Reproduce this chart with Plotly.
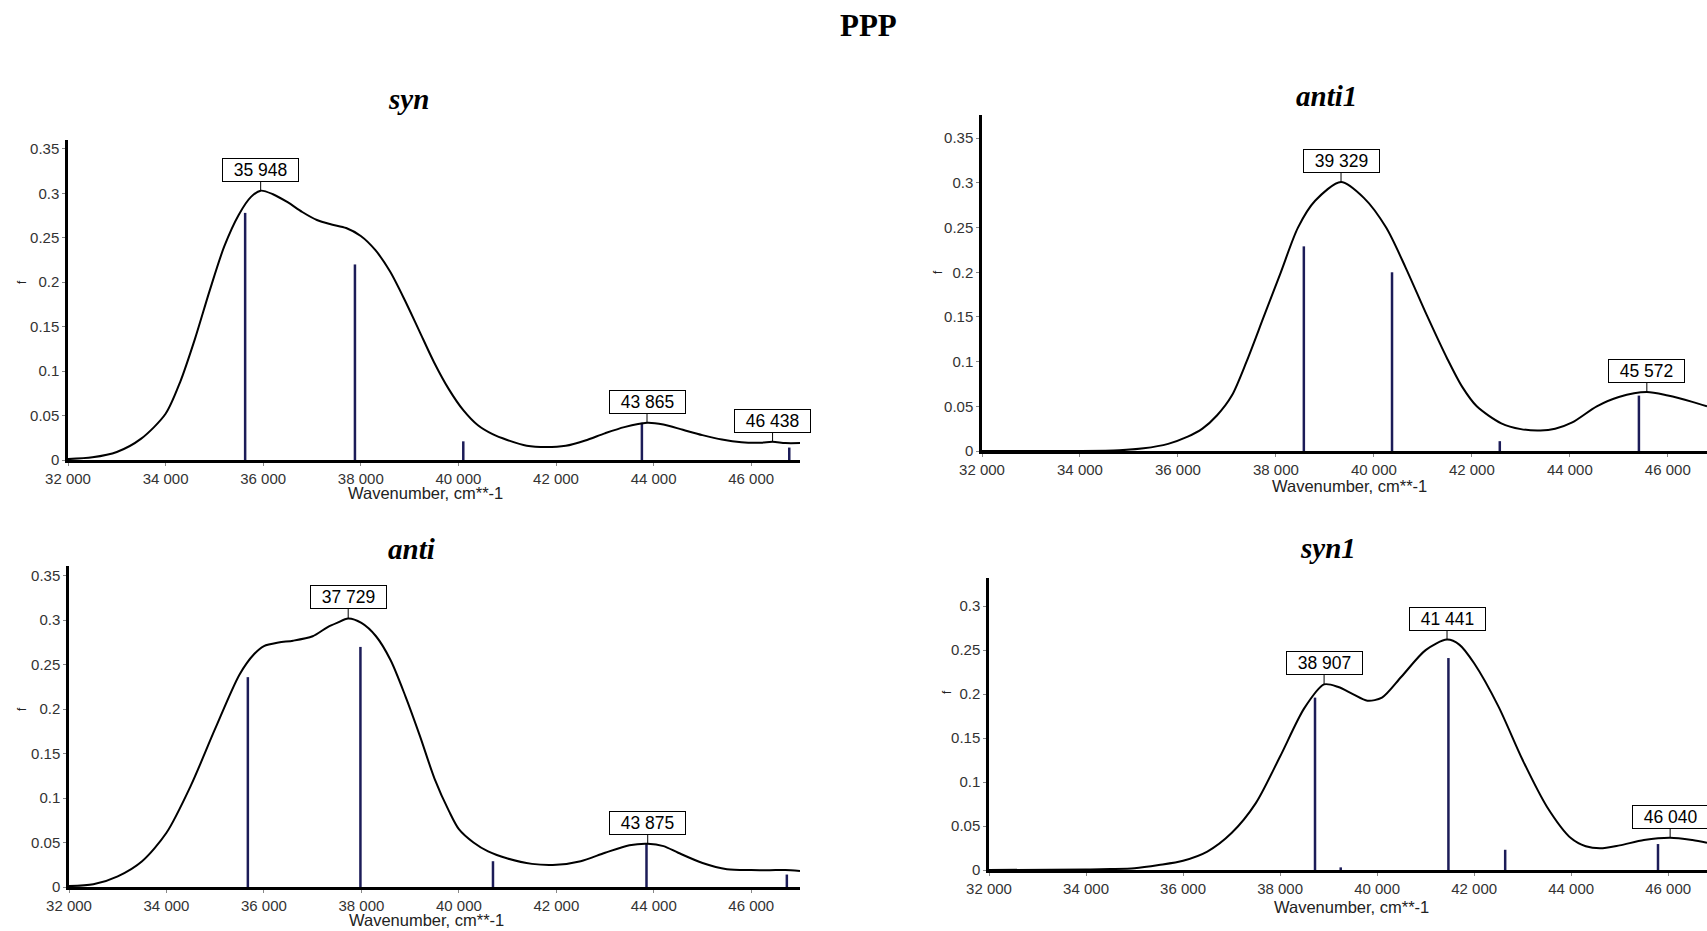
import plotly.graph_objects as go

# ---------------- data ----------------
X_TICKS = [32000, 34000, 36000, 38000, 40000, 42000, 44000, 46000]
X_TICKTEXT = ["32 000", "34 000", "36 000", "38 000", "40 000", "42 000", "44 000", "46 000"]
Y_TICKS = [0, 0.05, 0.1, 0.15, 0.2, 0.25, 0.3, 0.35]
Y_TICKTEXT = ["0", "0.05", "0.1", "0.15", "0.2", "0.25", "0.3", "0.35"]

MAIN_TITLE = "PPP"
PANEL_TITLES = ["syn", "anti1", "anti", "syn1"]
X_TITLE = "Wavenumber, cm**-1"
Y_TITLE = "f"

# syn
syn_w = [32000, 32500, 33000, 33500, 34000, 34300, 34600, 34900, 35200, 35500, 35750, 35948,
         36200, 36500, 36800, 37100, 37400, 37700, 38000, 38300, 38600, 38900, 39200, 39500,
         39800, 40100, 40400, 40700, 41000, 41400, 41800, 42200, 42600, 43000, 43400, 43865,
         44200, 44600, 45000, 45400, 45800, 46200, 46438, 46700, 47000]
syn_f = [0.001, 0.003, 0.009, 0.024, 0.052, 0.088, 0.136, 0.19, 0.24, 0.276, 0.296, 0.303,
         0.299, 0.29, 0.279, 0.27, 0.265, 0.261, 0.252, 0.236, 0.212, 0.18, 0.145, 0.11,
         0.08, 0.056, 0.039, 0.029, 0.0225, 0.016, 0.0145, 0.016, 0.022, 0.03, 0.037, 0.042,
         0.04, 0.034, 0.028, 0.023, 0.02, 0.0195, 0.0205, 0.019, 0.019]
syn_stick_w = [35630, 37880, 40100, 43760, 46780]
syn_stick_f = [0.278, 0.22, 0.021, 0.042, 0.014]
syn_peak_w = [35948, 43865, 46438]
syn_peak_f = [0.303, 0.042, 0.0205]
syn_peak_lbl = ["35 948", "43 865", "46 438"]

# anti1
anti1_w = [32000, 34000, 34800, 35300, 35800, 36200, 36500, 36800, 37100, 37400, 37750, 38100,
           38450, 38800, 39329, 39800, 40250, 40650, 41080, 41500, 41800, 42100, 42600, 43000,
           43400, 43700, 44050, 44550, 45000, 45572, 46000, 46500, 46800]
anti1_f = [0.0, 0.0, 0.0008, 0.003, 0.008, 0.016, 0.025, 0.04, 0.062, 0.1, 0.15, 0.2,
           0.25, 0.28, 0.301, 0.283, 0.25, 0.205, 0.152, 0.103, 0.072, 0.05, 0.031, 0.0245,
           0.023, 0.025, 0.032, 0.05, 0.0605, 0.066, 0.062, 0.055, 0.05]
anti1_stick_w = [38570, 40370, 42570, 45410]
anti1_stick_f = [0.229, 0.2, 0.011, 0.062]
anti1_peak_w = [39329, 45572]
anti1_peak_f = [0.301, 0.066]
anti1_peak_lbl = ["39 329", "45 572"]

# anti
anti_w = [32000, 32500, 33000, 33500, 34000, 34500, 35000, 35500, 35800, 36000, 36300, 36600,
          37000, 37300, 37500, 37729, 38000, 38300, 38600, 38900, 39200, 39500, 39800, 40000,
          40300, 40600, 41000, 41500, 42000, 42500, 43000, 43500, 43875, 44200, 44500, 45000,
          45500, 46000, 46500, 46700, 47000]
anti_f = [0.001, 0.003, 0.012, 0.029, 0.061, 0.114, 0.178, 0.239, 0.262, 0.271, 0.275, 0.277,
          0.282, 0.292, 0.297, 0.302, 0.297, 0.282, 0.255, 0.215, 0.17, 0.122, 0.085, 0.065,
          0.05, 0.04, 0.032, 0.026, 0.025, 0.029, 0.0385, 0.047, 0.0487, 0.046, 0.0385, 0.027,
          0.02, 0.019, 0.019, 0.019, 0.018]
anti_stick_w = [35670, 37980, 40700, 43850, 46730]
anti_stick_f = [0.236, 0.27, 0.029, 0.049, 0.014]
anti_peak_w = [37729, 43875]
anti_peak_f = [0.302, 0.0487]
anti_peak_lbl = ["37 729", "43 875"]

# syn1
syn1_w = [32000, 34000, 34500, 35000, 35500, 36000, 36500, 37000, 37500, 38000, 38500, 38907,
          39200, 39500, 39800, 40100, 40500, 41000, 41441, 41700, 42000, 42500, 43000, 43500,
          44000, 44300, 44600, 45000, 45500, 46040, 46500, 46800]
syn1_f = [0.0, 0.0005, 0.001, 0.002, 0.0057, 0.0106, 0.021, 0.042, 0.076, 0.129, 0.184, 0.211,
          0.208, 0.2, 0.1925, 0.196, 0.2197, 0.25, 0.262, 0.256, 0.235, 0.186, 0.125, 0.072,
          0.036, 0.027, 0.0246, 0.028, 0.034, 0.0367, 0.034, 0.031]
syn1_stick_w = [38720, 39250, 41470, 42640, 45790]
syn1_stick_f = [0.196, 0.003, 0.241, 0.023, 0.0295]
syn1_peak_w = [38907, 41441, 46040]
syn1_peak_f = [0.211, 0.262, 0.0367]
syn1_peak_lbl = ["38 907", "41 441", "46 040"]

# ---------------- layout (pixel geometry) ----------------
W, H = 1707, 931
SANS = "Liberation Sans Narrow, Arial Narrow, Liberation Sans, Arial, sans-serif"
SERIF = "Liberation Serif, Times New Roman, serif"

panels = [
    dict(title=PANEL_TITLES[0], w=syn_w, f=syn_f, sw=syn_stick_w, sf=syn_stick_f,
         pw=syn_peak_w, pf=syn_peak_f, pl=syn_peak_lbl,
         px=(68, 800), py=(460, 140), xr=(32000, 47000), yr=(0, 0.36),
         tpos=(408, 99), xtpos=(425, 493), ytpos=(22, 282)),
    dict(title=PANEL_TITLES[1], w=anti1_w, f=anti1_f, sw=anti1_stick_w, sf=anti1_stick_f,
         pw=anti1_peak_w, pf=anti1_peak_f, pl=anti1_peak_lbl,
         px=(982, 1707), py=(451, 115), xr=(32000, 46800), yr=(0, 0.376),
         tpos=(1326, 96), xtpos=(1349, 486), ytpos=(938, 272)),
    dict(title=PANEL_TITLES[2], w=anti_w, f=anti_f, sw=anti_stick_w, sf=anti_stick_f,
         pw=anti_peak_w, pf=anti_peak_f, pl=anti_peak_lbl,
         px=(69, 800), py=(887, 566), xr=(32000, 47000), yr=(0, 0.361),
         tpos=(411, 549), xtpos=(426, 920), ytpos=(22, 709)),
    dict(title=PANEL_TITLES[3], w=syn1_w, f=syn1_f, sw=syn1_stick_w, sf=syn1_stick_f,
         pw=syn1_peak_w, pf=syn1_peak_f, pl=syn1_peak_lbl,
         px=(989, 1707), py=(870, 578), xr=(32000, 46800), yr=(0, 0.332),
         tpos=(1328, 548), xtpos=(1351, 907), ytpos=(947, 692)),
]

fig = go.Figure()
annotations = []
layout_axes = {}

for i, p in enumerate(panels, start=1):
    xa = "x" if i == 1 else f"x{i}"
    ya = "y" if i == 1 else f"y{i}"
    # sticks
    sx, sy = [], []
    for w_, f_ in zip(p["sw"], p["sf"]):
        sx += [w_, w_, None]
        sy += [0, f_, None]
    fig.add_trace(go.Scatter(x=sx, y=sy, mode="lines", xaxis=xa, yaxis=ya,
                             line=dict(color="#1c1c58", width=2.5), showlegend=False,
                             hoverinfo="skip"))
    # curve
    fig.add_trace(go.Scatter(x=p["w"], y=p["f"], mode="lines", xaxis=xa, yaxis=ya,
                             line=dict(color="black", width=2, shape="spline", smoothing=0.8),
                             showlegend=False))
    xd = [p["px"][0] / W, min(1.0, p["px"][1] / W)]
    yd = [1 - p["py"][0] / H, 1 - p["py"][1] / H]
    xkey = "xaxis" if i == 1 else f"xaxis{i}"
    ykey = "yaxis" if i == 1 else f"yaxis{i}"
    common = dict(showline=True, linecolor="black", linewidth=2.5,
                  ticks="outside", ticklen=3, tickcolor="#888", tickwidth=1,
                  showgrid=False, zeroline=False, automargin=False,
                  tickfont=dict(family=SANS, size=15, color="#333"))
    layout_axes[xkey] = dict(domain=xd, range=list(p["xr"]), anchor=ya,
                             tickvals=X_TICKS, ticktext=X_TICKTEXT, **common)
    layout_axes[ykey] = dict(domain=yd, range=list(p["yr"]), anchor=xa,
                             tickvals=Y_TICKS, ticktext=Y_TICKTEXT, **common)
    # panel title
    annotations.append(dict(text=f"<b><i>{p['title']}</i></b>", x=p["tpos"][0] / W,
                            y=1 - p["tpos"][1] / H, xref="paper", yref="paper",
                            showarrow=False, xanchor="center", yanchor="middle",
                            font=dict(family=SERIF, size=29, color="black")))
    # axis titles
    annotations.append(dict(text=X_TITLE, x=p["xtpos"][0] / W, y=1 - p["xtpos"][1] / H,
                            xref="paper", yref="paper", showarrow=False,
                            xanchor="center", yanchor="middle",
                            font=dict(family=SANS, size=16.5, color="#222")))
    annotations.append(dict(text=Y_TITLE, x=p["ytpos"][0] / W, y=1 - p["ytpos"][1] / H,
                            xref="paper", yref="paper", showarrow=False, textangle=-90,
                            xanchor="center", yanchor="middle",
                            font=dict(family=SANS, size=12, color="#222")))
    # peak labels
    for w_, f_, lbl in zip(p["pw"], p["pf"], p["pl"]):
        annotations.append(dict(text="&nbsp;&nbsp;" + lbl + "&nbsp;&nbsp;", x=w_, y=f_,
                                xref=xa, yref=ya,
                                showarrow=True, arrowhead=0, arrowwidth=1,
                                arrowcolor="black", ax=0, ay=-21, standoff=0,
                                bordercolor="black", borderwidth=1, borderpad=1,
                                bgcolor="white",
                                font=dict(family=SANS, size=17.5, color="black")))

annotations.append(dict(text=f"<b>{MAIN_TITLE}</b>", x=868 / W, y=1 - 26 / H,
                        xref="paper", yref="paper", showarrow=False,
                        xanchor="center", yanchor="middle",
                        font=dict(family=SERIF, size=31, color="black")))

fig.update_layout(width=W, height=H, margin=dict(l=0, r=0, t=0, b=0),
                  paper_bgcolor="white", plot_bgcolor="white",
                  annotations=annotations, showlegend=False, **layout_axes)

fig.write_html("out.html", config={"displayModeBar": False})
